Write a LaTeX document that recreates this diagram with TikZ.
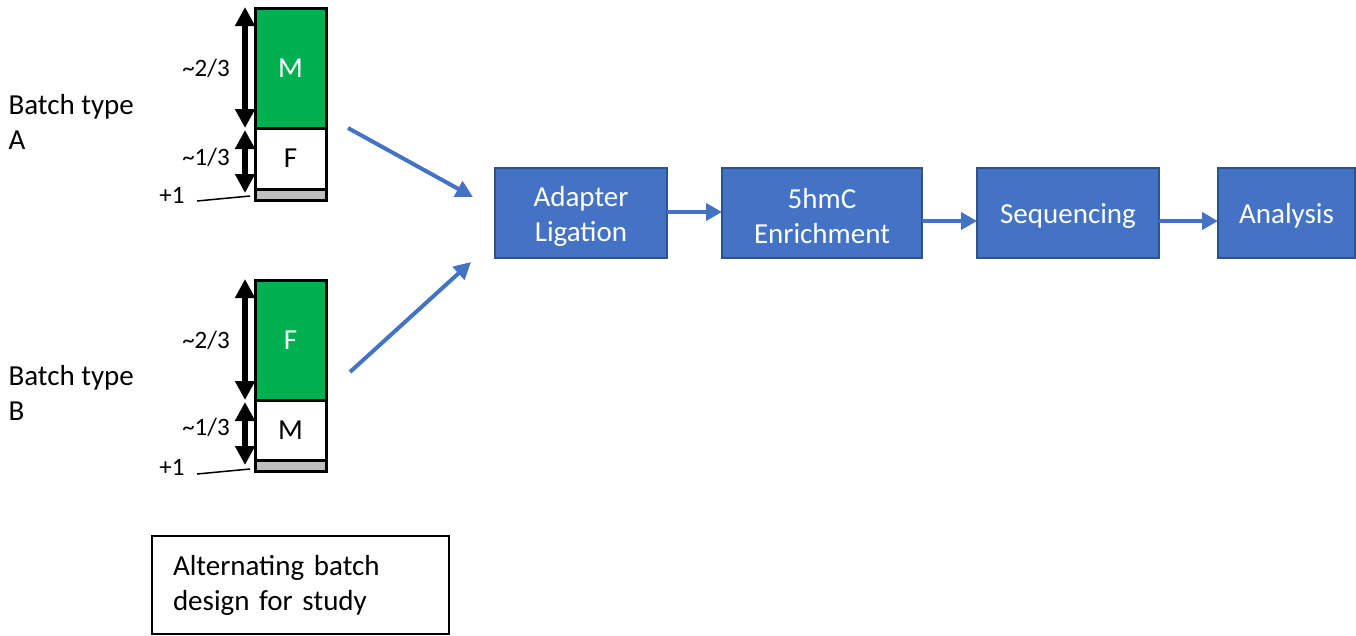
\documentclass[tikz,border=0pt]{standalone}
\usepackage{fontspec}
\setmainfont{Carlito}
\usetikzlibrary{arrows.meta}
\definecolor{boxblue}{HTML}{4472C4}
\definecolor{boxedge}{HTML}{2F528F}
\definecolor{bargreen}{HTML}{00B050}
\definecolor{stripgray}{HTML}{BFBFBF}
\begin{document}
\begin{tikzpicture}[x=1pt,y=-1pt,
  big/.style={font=\fontsize{29}{35}\selectfont},
  small/.style={font=\fontsize{25}{30}\selectfont},
  seg/.style={draw=black, line width=3pt, minimum width=71pt, anchor=north west, inner sep=0pt, outer sep=0pt, big},
  stepbox/.style={draw=boxedge, fill=boxblue, line width=2pt, inner sep=0pt, outer sep=0pt, anchor=north west, minimum height=90pt},
  steptext/.style={text=white, align=center, big, inner sep=0pt, yshift=-3pt},
  flow/.style={draw=boxblue, line width=4pt, -{Triangle[length=16pt,width=17pt]}},
  dim/.style={draw=black, line width=5.5pt, {Triangle[length=19pt,width=19pt]}-{Triangle[length=19pt,width=19pt]}},
  lead/.style={draw=black, line width=1.5pt}
]
\useasboundingbox (0,0) rectangle (1356,635);

% Batch A
\node[big, align=left, anchor=west] (labA) at (5,121.5) {Batch type\\A};
\node[seg, fill=bargreen, text=white, minimum height=120pt] (mA) at (255,8) {M};
\node[seg, fill=white, minimum height=61pt] (fA) at (255,128) {F};
\node[seg, fill=stripgray, minimum height=11pt] (gA) at (255,189) {};
\coordinate (dA1) at (245,7);
\coordinate (dA2) at (245,128);
\coordinate (dA3) at (245,130);
\coordinate (dA4) at (245,193);
\draw[dim] (dA1) -- (dA2);
\draw[dim] (dA3) -- (dA4);
\node[small] (tA1) at (206,68) {\textasciitilde2/3};
\node[small] (tA2) at (206,157) {\textasciitilde1/3};
\node[small] (pA) at (172,195) {+1};
\coordinate (lA1) at (197,201);
\coordinate (lA2) at (250,196);
\draw[lead] (lA1) -- (lA2);

% Batch B
\node[big, align=left, anchor=west] (labB) at (5,393) {Batch type\\B};
\node[seg, fill=bargreen, text=white, minimum height=120pt] (fB) at (255,280) {F};
\node[seg, fill=white, minimum height=60pt] (mB) at (255,400) {M};
\node[seg, fill=stripgray, minimum height=11pt] (gB) at (255,460) {};
\coordinate (dB1) at (245,279);
\coordinate (dB2) at (245,400);
\coordinate (dB3) at (245,402);
\coordinate (dB4) at (245,465);
\draw[dim] (dB1) -- (dB2);
\draw[dim] (dB3) -- (dB4);
\node[small] (tB1) at (206,340) {\textasciitilde2/3};
\node[small] (tB2) at (206,427) {\textasciitilde1/3};
\node[small] (pB) at (172,467) {+1};
\coordinate (lB1) at (197,474);
\coordinate (lB2) at (250,469);
\draw[lead] (lB1) -- (lB2);

% Flow boxes
\node[stepbox, minimum width=172pt] (s1) at (495,168) {};
\node[stepbox, minimum width=200pt] (s2) at (722,168) {};
\node[stepbox, minimum width=182pt] (s3) at (977,168) {};
\node[stepbox, minimum width=137pt] (s4) at (1218,168) {};
\node[steptext] (s1t) at (s1.center) {Adapter\\Ligation};
\node[steptext] (s2t) at (s2.center) {5hmC\\Enrichment};
\node[steptext] (s3t) at (s3.center) {Sequencing};
\node[steptext] (s4t) at (s4.center) {Analysis};

\draw[flow] (s1.east |- 0,212) -- (s2.west |- 0,212);
\draw[flow] (s2.east |- 0,221) -- (s3.west |- 0,221);
\draw[flow] (s3.east |- 0,221) -- (s4.west |- 0,221);

% Batch arrows
\coordinate (aA1) at (348,128);
\coordinate (aA2) at (473,197);
\coordinate (aB1) at (350,372);
\coordinate (aB2) at (471,262);
\draw[flow, -{Triangle[length=17pt,width=17pt]}] (aA1) -- (aA2);
\draw[flow, -{Triangle[length=17pt,width=17pt]}] (aB1) -- (aB2);

% Caption box
\node[draw=black, line width=2pt, anchor=north west, minimum width=297pt, minimum height=98pt,
      text width=255pt, inner xsep=21pt, align=left, big] (cap) at (151,535)
      {Alternating batch\\design for study};
\end{tikzpicture}
\end{document}
